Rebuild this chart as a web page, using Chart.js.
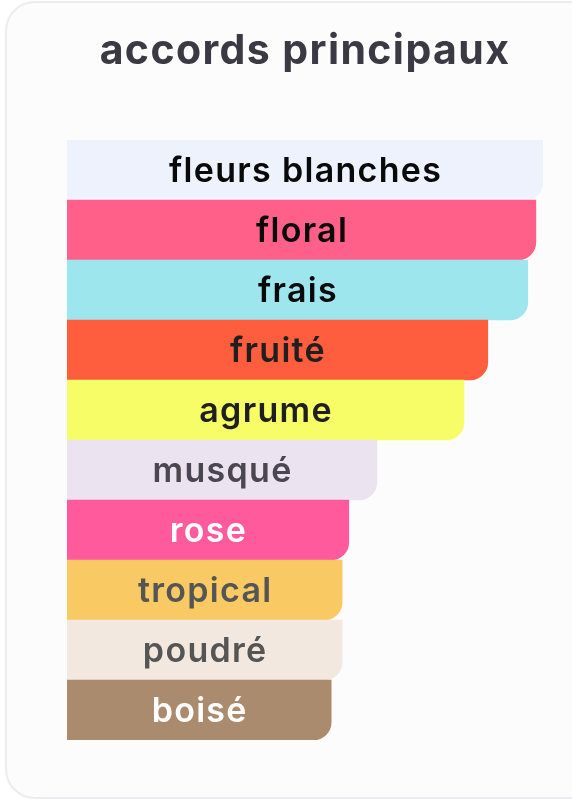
<!DOCTYPE html>
<html>
<head>
<meta charset="utf-8">
<script src="https://cdn.jsdelivr.net/npm/chart.js@4"></script>
<style>
  html, body { margin: 0; padding: 0; background: #ffffff; }
  body { width: 572px; height: 799px; overflow: hidden; position: relative; font-family: Inter, sans-serif; }
  .card {
    position: absolute; left: 5px; top: 1px; width: 620px; height: 794px;
    background: #fcfcfc; border: 2px solid #ececee; border-radius: 30px;
  }
  .chart-box { position: absolute; left: 67px; top: 0; width: 476px; height: 740px; }
</style>
</head>
<body>
<div class="card"></div>
<div class="chart-box"><canvas id="accordsChart"></canvas></div>
<script>
// accords principaux — share of each accord
const accords = ['fleurs blanches', 'floral', 'frais', 'fruité', 'agrume', 'musqué', 'rose', 'tropical', 'poudré', 'boisé'];
const strengths = [100, 98.5, 96.8, 88.4, 83.4, 65.1, 59.2, 57.8, 57.8, 55.5];
const barColors = ['#eef2fc', '#ff608a', '#9ee6ee', '#ff5e3e', '#f7fd66', '#ebe3ef', '#ff5a9c', '#f9c963', '#f3e8df', '#aa8b6d'];
const labelColors = ['#0a0a0a', '#0a0a0a', '#0a0a0a', '#1f1f1f', '#1f1f1f', '#4a4750', '#ffffff', '#555555', '#555555', '#ffffff'];

// wider tracking for the title (the title box is drawn right after beforeDraw)
const titleSpacing = {
  id: 'titleSpacing',
  beforeDraw(chart) { chart.ctx.letterSpacing = '1.4px'; },
  afterDraw(chart) { chart.ctx.letterSpacing = '0px'; }
};

// draws the accord name centred inside its bar
const barLabels = {
  id: 'barLabels',
  afterDatasetsDraw(chart) {
    const { ctx } = chart;
    const meta = chart.getDatasetMeta(0);
    ctx.save();
    ctx.font = "600 34px Inter, sans-serif";
    ctx.letterSpacing = '1.3px';
    ctx.textAlign = 'center';
    ctx.textBaseline = 'middle';
    meta.data.forEach((bar, i) => {
      ctx.fillStyle = labelColors[i];
      ctx.fillText(accords[i], (bar.base + bar.x) / 2 + 0.6, bar.y + 2);
    });
    ctx.restore();
  }
};

new Chart(document.getElementById('accordsChart'), {
  type: 'bar',
  data: {
    labels: accords,
    datasets: [{
      data: strengths,
      backgroundColor: barColors,
      borderWidth: 0,
      borderRadius: { topLeft: 0, bottomLeft: 0, topRight: 0, bottomRight: 18 },
      borderSkipped: false,
      categoryPercentage: 1,
      barPercentage: 1
    }]
  },
  options: {
    indexAxis: 'y',
    responsive: true,
    maintainAspectRatio: false,
    animation: false,
    layout: { padding: 0 },
    scales: {
      x: { display: false, min: 0, max: 100 },
      y: { display: false }
    },
    plugins: {
      legend: { display: false },
      tooltip: { enabled: false },
      title: {
        display: true,
        text: 'accords principaux',
        color: '#3b3a44',
        font: { family: 'Inter, sans-serif', size: 41, weight: 'bold', lineHeight: 1.2 },
        padding: { top: 27.5, bottom: 63.3 }
      }
    }
  },
  plugins: [titleSpacing, barLabels]
});
</script>
</body>
</html>
